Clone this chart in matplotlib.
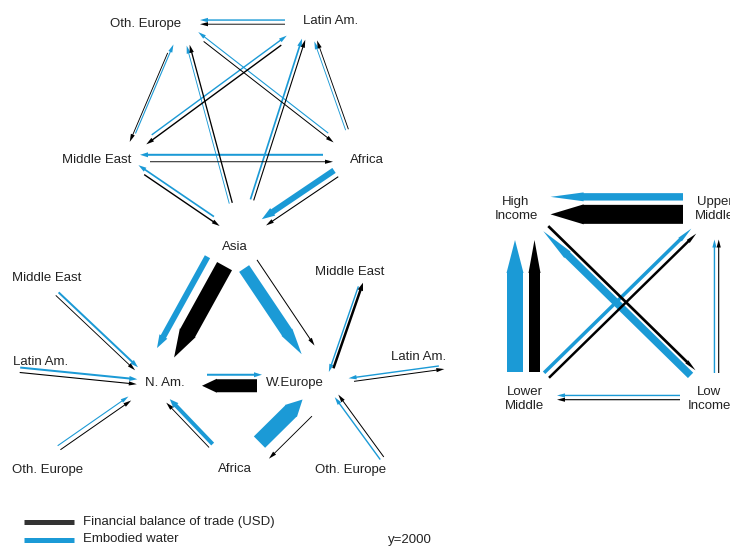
import numpy as np
import matplotlib
matplotlib.use("Agg")
import matplotlib.pyplot as plt
from matplotlib.patches import FancyArrow

plt.rcParams['font.family'] = ['Liberation Sans', 'DejaVu Sans']

BLUE = '#1b9ad6'
BLACK = '#000000'
TEXT = '#222222'

# ---------------------------------------------------------------
# flows between regions; sign gives direction (+: first -> second)
# ---------------------------------------------------------------

# upper ring: trade among the non-OECD regions
ring_pairs = [('LA', 'OE'), ('OE', 'ME'), ('OE', 'AS'), ('OE', 'AF'), ('ME', 'LA'),
              ('AS', 'LA'), ('AF', 'LA'), ('ME', 'AF'), ('ME', 'AS'), ('AF', 'AS')]
ring_water = [1.4, -1.1, -0.9, -1.1, 1.4, 1.7, 0.9, -2.0, -1.7, 6.0]
ring_money = [0.9, 0.9, -1.3, 1.0, -1.4, 1.1, 0.9, 0.9, 1.4, 1.1]

# lower star: trade with North America and Western Europe
star_pairs = [('AS', 'NA'), ('AS', 'WE'), ('NA', 'WE'), ('ME1', 'NA'), ('LA1', 'NA'),
              ('OE1', 'NA'), ('AF', 'NA'), ('AF', 'WE'), ('WE', 'ME2'), ('WE', 'LA2'),
              ('WE', 'OE2')]
star_water = [6.0, 12.0, 2.0, 2.0, 2.0, 1.1, 4.0, 16.0, -1.4, -1.4, -1.4]
star_money = [17.0, 1.0, -13.0, 0.9, 1.1, 1.0, 0.9, -0.9, 2.5, 1.0, -1.0]

# income groups
inc_pairs = [('HI', 'UM'), ('HI', 'LM'), ('UM', 'LI'), ('LM', 'LI'), ('HI', 'LI'), ('LM', 'UM')]
inc_water = [-7.4, -16.0, -1.4, -1.4, -7.5, 3.5]
inc_money = [-19.0, -11.0, -1.1, -1.1, 2.7, 2.5]

# ---------------------------------------------------------------
# layout (pixel units)
# ---------------------------------------------------------------
ring_nodes = {'OE': (182, 22), 'LA': (309, 22), 'ME': (124, 158),
              'AF': (357, 158), 'AS': (240, 237)}
ring_trim = [(14, 18), (24, 17), (24, 25), (19, 28), (26, 26),
             (29, 18), (20, 20), (16, 24), (16, 23), (16, 28)]
ring_side = [-1, 1, -1, 1, 1, 1, 1, 1, 1, -1]
ring_gap = [3, 1, 2, 3, 3, 2, 2, 5.5, 3, 4]

star_nodes = {'AS': (231, 240), 'NA': (152, 383), 'WE': (327, 383),
              'ME1': (45, 282), 'LA1': (12, 369), 'OE1': (50, 454), 'AF': (237, 472),
              'ME2': (366, 270), 'LA2': (452, 366), 'OE2': (389, 468)}
star_trim = [(21, 33), (26, 38), (50, 65), (12, 21), (3, 15), (6, 27),
             (32, 24), (32, 29), (11, 13), (22, 8), (16, 7)]
star_side = [-1, -1, 1, 1, 1, 1, -1, 1, 1, 1, -1]
star_gap = [8, 9, 3.5, 2.7, 3.4, 3.8, 2.5, 10, 1.2, 2.6, 3.2]

inc_nodes = {'HI': (523.5, 208.5), 'UM': (716.5, 208.5),
             'LM': (523.5, 397.5), 'LI': (716.5, 397.5)}
inc_trim = [(27, 33.5), (31.5, 25.5), (31, 24.5), (33.5, 36.5), (30, 34), (32, 32)]
inc_side = [1, -1, -1, 1, -1, 1]
inc_gap = [4.3, 6, 3, 3, 2, 4]

labels = [
    ('Oth. Europe', 146, 24), ('Latin Am.', 331, 21), ('Middle East', 97, 160),
    ('Africa', 367, 160), ('Asia', 235, 247),
    ('N. Am.', 165, 383), ('W.Europe', 295, 383), ('Middle East', 47, 278),
    ('Latin Am.', 41, 362), ('Oth. Europe', 48, 470), ('Africa', 235, 469),
    ('Middle East', 350, 272), ('Latin Am.', 419, 357), ('Oth. Europe', 351, 470),
    ('High\nIncome', 516, 209), ('Upper\nMiddle', 715, 209),
    ('Lower\nMiddle', 525, 399), ('Low\nIncome', 709, 399),
]


def draw_network(ax, nodes, pairs, water, money, trims, sides, gaps,
                 tail_pad, head_frac, head_mult, head_min, barb):
    arrows = {BLUE: [], BLACK: []}
    for (a, b), wv, mv, (ta, tb), side, gap in zip(pairs, water, money, trims, sides, gaps):
        p = np.array(nodes[a], float)
        q = np.array(nodes[b], float)
        u = (q - p) / np.hypot(*(q - p))
        n = np.array([u[1], -u[0]])  # left of a->b on screen (y grows down)
        ww, mw = abs(wv), abs(mv)
        total = ww + gap + mw
        offs = {BLUE: side * (total - ww) / 2, BLACK: -side * (total - mw) / 2}
        for val, w, color in ((wv, ww, BLUE), (mv, mw, BLACK)):
            s = p + u * ta + n * offs[color]
            e = q - u * tb + n * offs[color]
            if val > 0:
                start, end = s + u * tail_pad, e
            else:
                start, end = e - u * tail_pad, s
            arrows[color].append((start, end, w))

    for color in (BLUE, BLACK):
        for start, end, w in arrows[color]:
            d = end - start
            length = np.hypot(*d)
            hl = max(head_min, min(head_frac * length, head_mult * w))
            hw = max(w + (barb if w < 8 else 1), 4.2)
            ax.add_patch(FancyArrow(start[0], start[1], d[0], d[1], width=w,
                                    head_width=hw, head_length=hl,
                                    length_includes_head=True,
                                    facecolor=color, edgecolor='none', lw=0))


fig = plt.figure(figsize=(7.3, 5.47), dpi=100)
ax = fig.add_axes([0, 0, 1, 1])
ax.set_xlim(0, 730)
ax.set_ylim(547, 0)
ax.axis('off')

draw_network(ax, ring_nodes, ring_pairs, ring_water, ring_money, ring_trim,
             ring_side, ring_gap, tail_pad=10, head_frac=0.27, head_mult=2.2,
             head_min=8, barb=3)
draw_network(ax, star_nodes, star_pairs, star_water, star_money, star_trim,
             star_side, star_gap, tail_pad=5, head_frac=0.27, head_mult=2.2,
             head_min=8, barb=3)
draw_network(ax, inc_nodes, inc_pairs, inc_water, inc_money, inc_trim,
             inc_side, inc_gap, tail_pad=0, head_frac=0.25, head_mult=4.5,
             head_min=8, barb=1.5)

for text, x, y in labels:
    ax.text(x, y, text, ha='center', va='center', fontsize=9.5, color=TEXT,
            linespacing=1.2)

# legend
ax.plot([24, 74], [522, 522], color='#333333', lw=3.6, solid_capstyle='butt')
ax.plot([24, 74], [540, 540], color=BLUE, lw=3.6, solid_capstyle='butt')
ax.text(83, 522, 'Financial balance of trade (USD)', ha='left', va='center',
        fontsize=9.5, color=TEXT)
ax.text(83, 539, 'Embodied water', ha='left', va='center', fontsize=9.5, color=TEXT)
ax.text(388, 540, 'y=2000', ha='left', va='center', fontsize=9.5, color=TEXT)

fig.savefig('out.png', dpi=100)
